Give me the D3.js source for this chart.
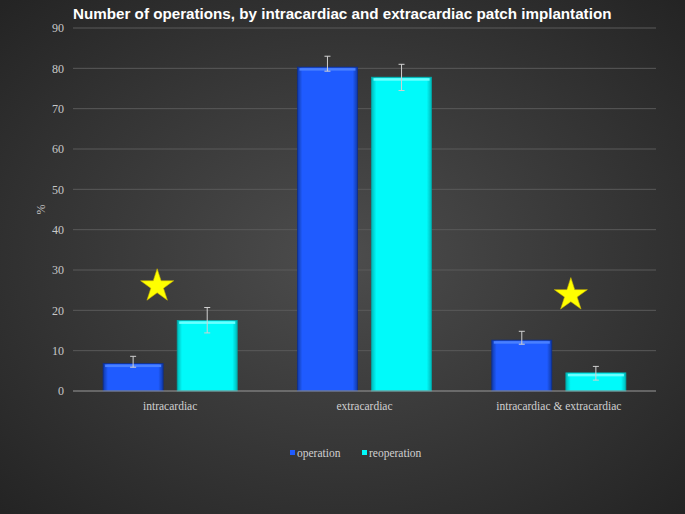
<!DOCTYPE html>
<html>
<head>
<meta charset="utf-8">
<script src="https://cdn.jsdelivr.net/npm/d3@7"></script>
<style>
  html, body { margin: 0; padding: 0; background: #333; }
  svg { display: block; }
  .serif { font-family: "Liberation Serif", "DejaVu Serif", "Times New Roman", serif; }
</style>
</head>
<body>
<div id="chart"></div>
<script>
// data
var categories = ["intracardiac", "extracardiac", "intracardiac & extracardiac"];
var seriesNames = ["operation", "reoperation"];
var operation = [6.8, 80.3, 12.6];
var reoperation = [17.5, 77.8, 4.5];
var operationLow = [5.9, 79.3, 11.6];
var operationHigh = [8.6, 83.0, 14.8];
var reoperationLow = [14.4, 74.5, 2.7];
var reoperationHigh = [20.7, 81.0, 6.1];
var yTicks = [0, 10, 20, 30, 40, 50, 60, 70, 80, 90];
var starCategories = ["intracardiac", "intracardiac & extracardiac"];
var starValues = [26, 23.8];
var starSeries = ["operation", "reoperation"];

var width = 685, height = 514;
var margin = { top: 28, right: 29, bottom: 123, left: 73 };
var serifFont = "'Liberation Serif', 'DejaVu Serif', 'Times New Roman', serif";

var svg = d3.select("#chart").append("svg")
  .attr("width", width).attr("height", height);

var defs = svg.append("defs");
var bg = defs.append("radialGradient").attr("id", "bg")
  .attr("cx", "50%").attr("cy", "50%").attr("r", "70%");
bg.append("stop").attr("offset", "0%").attr("stop-color", "#4d4d4d");
bg.append("stop").attr("offset", "100%").attr("stop-color", "#242424");

function barGrad(id, edge, mid) {
  var g = defs.append("linearGradient").attr("id", id)
    .attr("x1", "0%").attr("x2", "100%").attr("y1", "0%").attr("y2", "0%");
  g.append("stop").attr("offset", "0%").attr("stop-color", edge);
  g.append("stop").attr("offset", "8%").attr("stop-color", mid);
  g.append("stop").attr("offset", "92%").attr("stop-color", mid);
  g.append("stop").attr("offset", "100%").attr("stop-color", edge);
}
barGrad("gOp", "#103aa8", "#1f5bff");
barGrad("gRe", "#00b8b8", "#00fafa");

svg.append("rect").attr("width", width).attr("height", height).attr("fill", "url(#bg)");

var x0 = d3.scaleBand().domain(categories)
  .range([margin.left, width - margin.right]).paddingInner(0.31).paddingOuter(0.155);
var x1 = d3.scaleBand().domain(seriesNames).range([0, x0.bandwidth()]).paddingInner(0.19);
var y = d3.scaleLinear().domain([0, 90]).range([height - margin.bottom, margin.top]);

// gridlines
svg.append("g").selectAll("line").data(yTicks.filter(d => d > 0)).join("line")
  .attr("x1", margin.left).attr("x2", width - margin.right)
  .attr("y1", d => y(d)).attr("y2", d => y(d))
  .attr("stroke", "#5a5a5a").attr("stroke-width", 1);

// y axis labels
var yAxis = svg.append("g").attr("transform", "translate(" + margin.left + ",0)")
  .call(d3.axisLeft(y).tickValues(yTicks).tickSize(0).tickPadding(9))
  .attr("font-family", serifFont).attr("font-size", 12);
yAxis.select(".domain").remove();
yAxis.selectAll("text").attr("fill", "#c8c8c8");

svg.append("text").attr("transform", "translate(45," + y(45) + ") rotate(-90)")
  .attr("text-anchor", "middle").attr("fill", "#c8c8c8")
  .attr("font-family", serifFont).attr("font-size", 12).text("%");

// bars
var rows = categories.map((c, i) => ({
  cat: c,
  vals: [
    { s: "operation", v: operation[i], lo: operationLow[i], hi: operationHigh[i], fill: "url(#gOp)", top: "#4a80ff", stroke: "#0d2f90" },
    { s: "reoperation", v: reoperation[i], lo: reoperationLow[i], hi: reoperationHigh[i], fill: "url(#gRe)", top: "#6affff", stroke: "#00a8a8" }
  ]
}));

var groups = svg.append("g").selectAll("g").data(rows).join("g")
  .attr("transform", d => "translate(" + x0(d.cat) + ",0)");

groups.selectAll("rect.bar").data(d => d.vals).join("rect").attr("class", "bar")
  .attr("x", d => x1(d.s)).attr("width", x1.bandwidth())
  .attr("y", d => y(d.v)).attr("height", d => y(0) - y(d.v))
  .attr("fill", d => d.fill).attr("stroke", d => d.stroke).attr("stroke-width", 0.8);

groups.selectAll("rect.hl").data(d => d.vals).join("rect").attr("class", "hl")
  .attr("x", d => x1(d.s) + 2).attr("width", x1.bandwidth() - 4)
  .attr("y", d => y(d.v) + 1).attr("height", 2.5)
  .attr("fill", d => d.top);

// error bars
var eb = groups.selectAll("g.err").data(d => d.vals).join("g").attr("class", "err")
  .attr("stroke", "#d0d0d0").attr("stroke-width", 1);
eb.append("line")
  .attr("x1", d => x1(d.s) + x1.bandwidth() / 2).attr("x2", d => x1(d.s) + x1.bandwidth() / 2)
  .attr("y1", d => y(d.hi)).attr("y2", d => y(d.lo));
eb.append("line")
  .attr("x1", d => x1(d.s) + x1.bandwidth() / 2 - 3).attr("x2", d => x1(d.s) + x1.bandwidth() / 2 + 3)
  .attr("y1", d => y(d.hi)).attr("y2", d => y(d.hi));
eb.append("line")
  .attr("x1", d => x1(d.s) + x1.bandwidth() / 2 - 3).attr("x2", d => x1(d.s) + x1.bandwidth() / 2 + 3)
  .attr("y1", d => y(d.lo)).attr("y2", d => y(d.lo));

// baseline
svg.append("line").attr("x1", margin.left).attr("x2", width - margin.right)
  .attr("y1", y(0)).attr("y2", y(0)).attr("stroke", "#9a9a9a").attr("stroke-width", 1);

// category labels
svg.append("g").selectAll("text").data(categories).join("text")
  .attr("x", d => x0(d) + x0.bandwidth() / 2).attr("y", y(0) + 19)
  .attr("text-anchor", "middle").attr("fill", "#d0d0d0")
  .attr("font-family", serifFont).attr("font-size", 11.5)
  .text(d => d);

// stars
var star = d3.symbol().type(d3.symbolStar).size(340);
svg.append("g").selectAll("path").data(starCategories).join("path")
  .attr("d", star)
  .attr("transform", (d, i) => {
    var cx = x0(d) + x0.bandwidth() / 2 + (starSeries[i] === "operation" ? -13 : 12);
    return "translate(" + cx + "," + y(starValues[i]) + ")";
  })
  .attr("fill", "#ffff00").attr("stroke", "#c8b400").attr("stroke-width", 0.6);

// title
svg.append("text").attr("x", 73).attr("y", 19).attr("fill", "#ffffff")
  .attr("font-family", "'Liberation Sans', Arial, sans-serif").attr("font-size", 15.2)
  .attr("font-weight", "bold")
  .text("Number of operations, by intracardiac and extracardiac patch implantation");

// legend
var legendX = [290, 362];
var legendColors = ["url(#gOp)", "url(#gRe)"];
var lg = svg.append("g").selectAll("g").data(seriesNames).join("g")
  .attr("transform", (d, i) => "translate(" + legendX[i] + ",457)");
lg.append("rect").attr("x", 0).attr("y", -7).attr("width", 5).attr("height", 5)
  .attr("fill", (d, i) => legendColors[i]);
lg.append("text").attr("x", 7).attr("y", 0).attr("fill", "#d0d0d0")
  .attr("font-family", serifFont).attr("font-size", 11.5)
  .text(d => d);
</script>
</body>
</html>
